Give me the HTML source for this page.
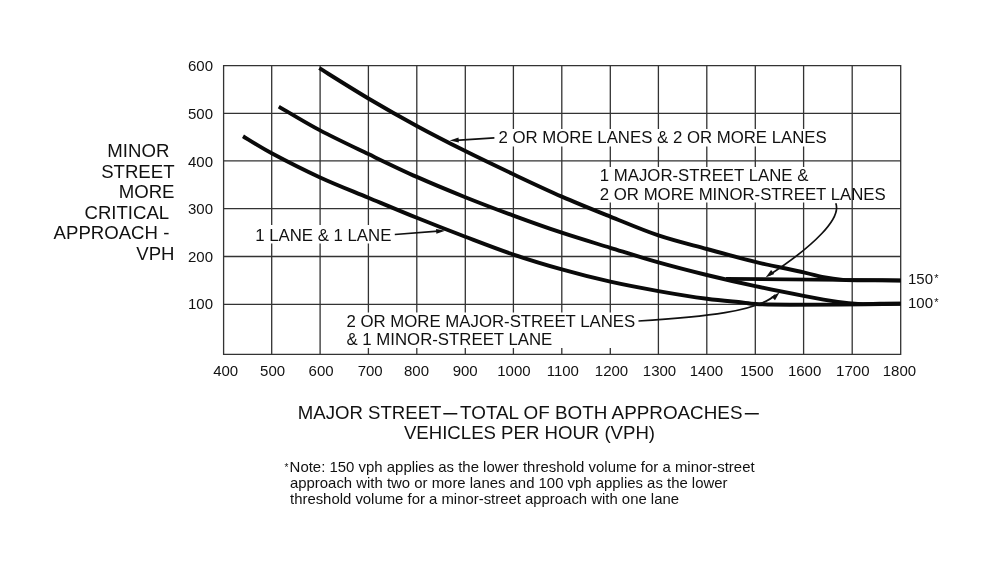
<!DOCTYPE html>
<html><head><meta charset="utf-8"><style>
html,body{margin:0;padding:0;background:#fff;width:1000px;height:569px;overflow:hidden}
svg{display:block;will-change:transform}
text{font-family:"Liberation Sans",sans-serif}
</style></head><body>
<svg width="1000" height="569" viewBox="0 0 1000 569">
<rect width="1000" height="569" fill="#fff"/>
<path d="M223.60,65.70V354.40 M271.70,65.70V354.40 M320.10,65.70V354.40 M368.40,65.70V354.40 M416.80,65.70V354.40 M465.30,65.70V354.40 M513.40,65.70V354.40 M561.80,65.70V354.40 M610.30,65.70V354.40 M658.40,65.70V354.40 M706.80,65.70V354.40 M755.30,65.70V354.40 M803.60,65.70V354.40 M852.20,65.70V354.40 M900.70,65.70V354.40 M223.60,65.70H900.70 M223.60,113.40H900.70 M223.60,160.90H900.70 M223.60,208.70H900.70 M223.60,256.50H900.70 M223.60,304.30H900.70 M223.60,354.40H900.70" stroke="#333" stroke-width="1.3" fill="none" stroke-linecap="square"/>
<rect x="497" y="129" width="335" height="17.5" fill="#fff"/>
<rect x="597" y="167" width="248" height="35.5" fill="#fff"/>
<rect x="252" y="225" width="142" height="18.5" fill="#fff"/>
<rect x="343" y="312.5" width="295" height="35.5" fill="#fff"/>
<path d="M319.30,68.20 C327.48,73.25 352.15,88.87 368.40,98.50 C384.65,108.13 400.65,117.23 416.80,126.00 C432.95,134.77 449.20,143.05 465.30,151.10 C481.40,159.15 497.32,166.72 513.40,174.30 C529.48,181.88 545.65,189.55 561.80,196.60 C577.95,203.65 594.20,210.13 610.30,216.60 C626.40,223.07 642.32,230.00 658.40,235.40 C674.48,240.80 690.65,244.58 706.80,249.00 C722.95,253.42 739.17,258.02 755.30,261.90 C771.43,265.78 792.48,269.78 803.60,272.30 C814.72,274.82 815.43,275.73 822.00,277.00 C828.57,278.27 835.00,279.37 843.00,279.90 C851.00,280.43 860.38,280.10 870.00,280.20 C879.62,280.30 895.58,280.45 900.70,280.50" stroke="#0a0a0a" stroke-width="3.9" fill="none" stroke-linecap="butt"/>
<path d="M278.80,106.60 C285.68,110.57 305.17,122.48 320.10,130.40 C335.03,138.32 352.28,146.35 368.40,154.10 C384.52,161.85 400.65,169.72 416.80,176.90 C432.95,184.08 449.20,190.75 465.30,197.20 C481.40,203.65 497.32,209.68 513.40,215.60 C529.48,221.52 545.65,227.33 561.80,232.70 C577.95,238.07 594.20,242.85 610.30,247.80 C626.40,252.75 642.32,257.87 658.40,262.40 C674.48,266.93 690.65,271.05 706.80,275.00 C722.95,278.95 739.17,282.63 755.30,286.10 C771.43,289.57 789.82,293.17 803.60,295.80 C817.38,298.43 828.93,300.53 838.00,301.90 C847.07,303.27 851.00,303.68 858.00,304.00 C865.00,304.32 872.88,303.87 880.00,303.80 C887.12,303.73 897.25,303.63 900.70,303.60" stroke="#0a0a0a" stroke-width="3.9" fill="none" stroke-linecap="butt"/>
<path d="M243.00,136.20 C247.78,139.03 258.85,146.33 271.70,153.20 C284.55,160.07 303.98,169.98 320.10,177.40 C336.22,184.82 352.28,190.97 368.40,197.70 C384.52,204.43 400.65,211.28 416.80,217.80 C432.95,224.32 449.20,230.67 465.30,236.80 C481.40,242.93 497.32,249.17 513.40,254.60 C529.48,260.03 545.65,264.88 561.80,269.40 C577.95,273.92 594.20,278.08 610.30,281.70 C626.40,285.32 642.32,288.25 658.40,291.10 C674.48,293.95 692.87,296.92 706.80,298.80 C720.73,300.68 733.92,301.53 742.00,302.40 C750.08,303.27 747.30,303.62 755.30,304.00 C763.30,304.38 775.88,304.60 790.00,304.70 C804.12,304.80 821.55,304.77 840.00,304.60 C858.45,304.43 890.58,303.85 900.70,303.70" stroke="#0a0a0a" stroke-width="3.9" fill="none" stroke-linecap="butt"/>
<path d="M726,278.8 L900.7,280.5" stroke="#0a0a0a" stroke-width="3.7" fill="none"/>
<path d="M494.4,137.8 L456,140.3" stroke="#111" stroke-width="1.7" fill="none"/>
<path d="M449.70,140.60 L458.53,137.54 L458.84,142.53Z" fill="#111"/>
<path d="M394.8,234.5 L438,231.2" stroke="#111" stroke-width="1.7" fill="none"/>
<path d="M445.20,230.70 L436.41,233.87 L436.04,228.88Z" fill="#111"/>
<path d="M835.8,203.3 C841.6,218.4 813.6,246.2 769.3,275.0" stroke="#111" stroke-width="1.7" fill="none"/>
<path d="M765.60,277.60 L771.12,270.07 L774.22,273.99Z" fill="#111"/>
<path d="M638.5,321 C704.9,317.0 757.2,311.5 775.5,295.0" stroke="#111" stroke-width="1.7" fill="none"/>
<path d="M779.60,292.20 L775.00,300.33 L771.47,296.80Z" fill="#111"/>
<text x="213" y="70.9" font-size="15" text-anchor="end" fill="#111" font-family="Liberation Sans, sans-serif">600</text>
<text x="213" y="118.6" font-size="15" text-anchor="end" fill="#111" font-family="Liberation Sans, sans-serif">500</text>
<text x="213" y="166.8" font-size="15" text-anchor="end" fill="#111" font-family="Liberation Sans, sans-serif">400</text>
<text x="213" y="213.9" font-size="15" text-anchor="end" fill="#111" font-family="Liberation Sans, sans-serif">300</text>
<text x="213" y="261.7" font-size="15" text-anchor="end" fill="#111" font-family="Liberation Sans, sans-serif">200</text>
<text x="213" y="308.7" font-size="15" text-anchor="end" fill="#111" font-family="Liberation Sans, sans-serif">100</text>
<text x="225.7" y="375.6" font-size="15" text-anchor="middle" fill="#111" font-family="Liberation Sans, sans-serif">400</text>
<text x="272.6" y="375.6" font-size="15" text-anchor="middle" fill="#111" font-family="Liberation Sans, sans-serif">500</text>
<text x="321.1" y="375.6" font-size="15" text-anchor="middle" fill="#111" font-family="Liberation Sans, sans-serif">600</text>
<text x="370.2" y="375.6" font-size="15" text-anchor="middle" fill="#111" font-family="Liberation Sans, sans-serif">700</text>
<text x="416.5" y="375.6" font-size="15" text-anchor="middle" fill="#111" font-family="Liberation Sans, sans-serif">800</text>
<text x="465.2" y="375.6" font-size="15" text-anchor="middle" fill="#111" font-family="Liberation Sans, sans-serif">900</text>
<text x="513.9" y="375.6" font-size="15" text-anchor="middle" fill="#111" font-family="Liberation Sans, sans-serif">1000</text>
<text x="562.8" y="375.6" font-size="15" text-anchor="middle" fill="#111" font-family="Liberation Sans, sans-serif">1100</text>
<text x="611.5" y="375.6" font-size="15" text-anchor="middle" fill="#111" font-family="Liberation Sans, sans-serif">1200</text>
<text x="659.5" y="375.6" font-size="15" text-anchor="middle" fill="#111" font-family="Liberation Sans, sans-serif">1300</text>
<text x="706.4" y="375.6" font-size="15" text-anchor="middle" fill="#111" font-family="Liberation Sans, sans-serif">1400</text>
<text x="756.9" y="375.6" font-size="15" text-anchor="middle" fill="#111" font-family="Liberation Sans, sans-serif">1500</text>
<text x="804.6" y="375.6" font-size="15" text-anchor="middle" fill="#111" font-family="Liberation Sans, sans-serif">1600</text>
<text x="852.8" y="375.6" font-size="15" text-anchor="middle" fill="#111" font-family="Liberation Sans, sans-serif">1700</text>
<text x="899.4" y="375.6" font-size="15" text-anchor="middle" fill="#111" font-family="Liberation Sans, sans-serif">1800</text>
<text x="908" y="284.3" font-size="15" fill="#111" font-family="Liberation Sans, sans-serif">150<tspan font-size="11" dx="1.1" dy="-2.3">*</tspan></text>
<text x="908" y="308" font-size="15" fill="#111" font-family="Liberation Sans, sans-serif">100<tspan font-size="11" dx="1.1" dy="-2.3">*</tspan></text>
<text x="174.5" y="157.2" font-size="18.6" text-anchor="end" fill="#111" font-family="Liberation Sans, sans-serif" xml:space="preserve">MINOR </text>
<text x="174.5" y="178.0" font-size="18.6" text-anchor="end" fill="#111" font-family="Liberation Sans, sans-serif" xml:space="preserve">STREET</text>
<text x="174.5" y="198.4" font-size="18.6" text-anchor="end" fill="#111" font-family="Liberation Sans, sans-serif" xml:space="preserve">MORE</text>
<text x="173.7" y="219.3" font-size="18.6" text-anchor="end" fill="#111" font-family="Liberation Sans, sans-serif" xml:space="preserve">CRITICAL </text>
<text x="174.5" y="239.3" font-size="18.6" text-anchor="end" fill="#111" font-family="Liberation Sans, sans-serif" xml:space="preserve">APPROACH - </text>
<text x="174.5" y="259.5" font-size="18.6" text-anchor="end" fill="#111" font-family="Liberation Sans, sans-serif" xml:space="preserve">VPH</text>
<text x="498.5" y="143" font-size="16.8" text-anchor="start" fill="#111" font-family="Liberation Sans, sans-serif">2 OR MORE LANES &amp; 2 OR MORE LANES</text>
<text x="599.8" y="180.9" font-size="16.8" text-anchor="start" fill="#111" font-family="Liberation Sans, sans-serif">1 MAJOR-STREET LANE &amp;</text>
<text x="599.8" y="199.5" font-size="16.8" text-anchor="start" fill="#111" font-family="Liberation Sans, sans-serif">2 OR MORE MINOR-STREET LANES</text>
<text x="255.2" y="240.7" font-size="16.8" text-anchor="start" fill="#111" font-family="Liberation Sans, sans-serif">1 LANE &amp; 1 LANE</text>
<text x="346.5" y="326.6" font-size="16.8" text-anchor="start" fill="#111" font-family="Liberation Sans, sans-serif">2 OR MORE MAJOR-STREET LANES</text>
<text x="346.5" y="345.4" font-size="16.8" text-anchor="start" fill="#111" font-family="Liberation Sans, sans-serif">&amp; 1 MINOR-STREET LANE</text>
<text x="297.8" y="419.3" font-size="18.6" text-anchor="start" fill="#111" font-family="Liberation Sans, sans-serif">MAJOR STREET</text>
<text x="460.1" y="419.3" font-size="18.6" text-anchor="start" fill="#111" font-family="Liberation Sans, sans-serif" textLength="282.4" lengthAdjust="spacingAndGlyphs">TOTAL OF BOTH APPROACHES</text>
<path d="M443.3,413.7H457.3M744.8,413.7H758.8" stroke="#111" stroke-width="1.6"/>
<text x="529.5" y="439.3" font-size="18.6" text-anchor="middle" fill="#111" font-family="Liberation Sans, sans-serif">VEHICLES PER HOUR (VPH)</text>
<text x="284.6" y="470.5" font-size="10" fill="#111" font-family="Liberation Sans, sans-serif">*</text>
<text x="289.6" y="472" font-size="14.5" text-anchor="start" fill="#111" font-family="Liberation Sans, sans-serif" textLength="465" lengthAdjust="spacingAndGlyphs">Note: 150 vph applies as the lower threshold volume for a minor-street</text>
<text x="290" y="487.8" font-size="14.5" text-anchor="start" fill="#111" font-family="Liberation Sans, sans-serif" textLength="437.5" lengthAdjust="spacingAndGlyphs">approach with two or more lanes and 100 vph applies as the lower</text>
<text x="290" y="503.6" font-size="14.5" text-anchor="start" fill="#111" font-family="Liberation Sans, sans-serif" textLength="389" lengthAdjust="spacingAndGlyphs">threshold volume for a minor-street approach with one lane</text>
</svg>
</body></html>
